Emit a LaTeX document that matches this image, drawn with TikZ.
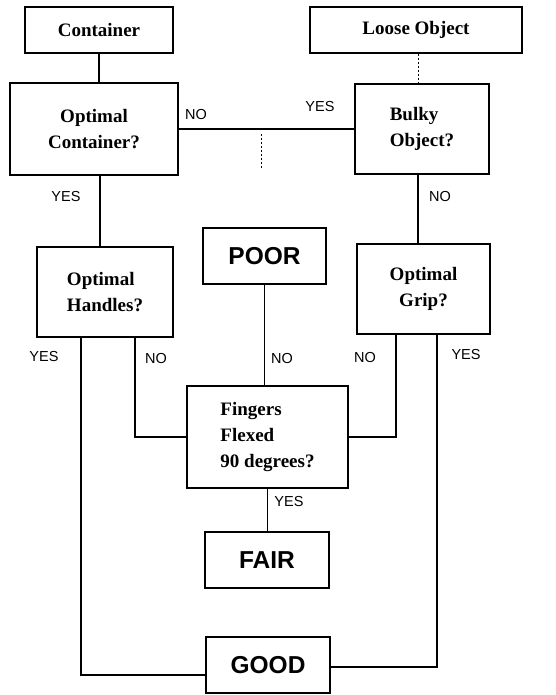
\documentclass[tikz,border=0pt]{standalone}
\usepackage{fontspec}
\setmainfont{Liberation Serif}
\newfontfamily\lsans{Liberation Sans}
\begin{document}
\begin{tikzpicture}[x=1pt,y=-1pt,
  box/.style={draw, line width=1.1pt, inner sep=0pt, align=center,
    font=\fontsize{19}{26}\selectfont\bfseries},
  rating/.style={draw, line width=1.1pt, inner sep=0pt,
    font=\lsans\bfseries\fontsize{24.5}{28}\selectfont,
    minimum width=124pt, minimum height=56pt},
  lab/.style={inner sep=0pt, font=\lsans\fontsize{14.5}{16}\selectfont},
  conn/.style={line width=1.1pt},
  faint/.style={line width=0.8pt, dash pattern=on 2pt off 2pt}]
\useasboundingbox (0,0) rectangle (555,695);

% boxes
\node[box, minimum width=148pt, minimum height=46pt] (container) at (99,30) {Container};
\node[box, minimum width=212pt, minimum height=46pt] (loose) at (416,30) {Loose Object};
\node[box, minimum width=168pt, minimum height=92pt] (optcont) at (94,129) {Optimal\\Container?};
\node[box, align=left, minimum width=134pt, minimum height=90pt] (bulky) at (422,129) {Bulky\\Object?};
\node[box, align=left, minimum width=136pt, minimum height=90pt] (handles) at (105,292) {Optimal\\Handles?};
\node[rating, minimum width=123pt] (poor) at (264.5,256) {POOR};
\node[box, minimum width=133pt, minimum height=90pt] (grip) at (423.5,289) {Optimal\\Grip?};
\node[box, align=left, minimum width=161pt, minimum height=102pt] (fingers) at (267.5,437) {Fingers\\Flexed\\90 degrees?};
\node[rating] (fair) at (267,560) {FAIR};
\node[rating] (good) at (268,665) {GOOD};

% connectors
\draw[conn] (container.south) -- (container.south |- optcont.north);
\draw[faint] ([xshift=2pt]loose.south) -- ([xshift=2pt]loose.south |- bulky.north);
\draw[conn] (optcont.east) -- (bulky.west);
\coordinate (d1) at (261,134);
\coordinate (d2) at (261,168);
\draw[faint] (d1) -- (d2);
\draw[conn] ([xshift=6pt]optcont.south) -- ([xshift=6pt]optcont.south |- handles.north);
\draw[conn] ([xshift=-4pt]bulky.south) -- ([xshift=-4pt]bulky.south |- grip.north);
\draw[conn] ([xshift=-24pt]handles.south) |- ([yshift=-10pt]good.west);
\draw[conn] ([xshift=30pt]handles.south) |- (fingers.west);
\draw[conn] (poor.south) -- (poor.south |- fingers.north);
\draw[conn] ([xshift=-27.5pt]grip.south) |- (fingers.east);
\draw[conn] ([xshift=13.5pt]grip.south) |- ([yshift=-2pt]good.east);
\draw[conn] (fingers.south) -- (fingers.south |- fair.north);

% labels
\node[lab] (l1) at (196,115) {NO};
\node[lab] (l2) at (320,107) {YES};
\node[lab] (l3) at (66,197) {YES};
\node[lab] (l4) at (440,197) {NO};
\node[lab] (l5) at (44,357) {YES};
\node[lab] (l6) at (156,359) {NO};
\node[lab] (l7) at (282,359) {NO};
\node[lab] (l8) at (365,358) {NO};
\node[lab] (l9) at (466,355) {YES};
\node[lab] (l10) at (289,502) {YES};
\end{tikzpicture}
\end{document}
